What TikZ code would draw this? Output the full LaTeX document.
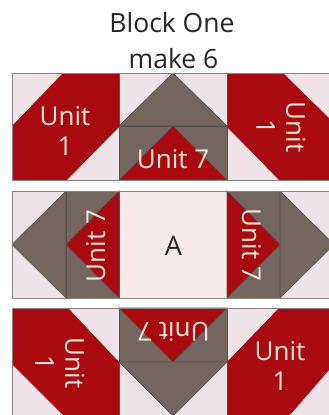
\documentclass[tikz,border=0pt]{standalone}
\usepackage{fontspec}
\setmainfont{Open Sans}
\definecolor{qred}{HTML}{A90A0F}
\definecolor{qgray}{HTML}{74655F}
\definecolor{qlight}{HTML}{EEE4E8}
\definecolor{qpink}{HTML}{F6E9EC}
\definecolor{qline}{HTML}{55504E}
\definecolor{qtxt}{HTML}{F7E6D6}
\tikzset{
  redp/.style={fill=qred},
  grayp/.style={fill=qgray,draw=qline,line width=.6pt,line join=round},
  lightp/.style={fill=qlight},
  seam/.style={draw=qline,line width=.7pt},
  lab/.style={text=qtxt,font=\fontsize{26}{30}\selectfont,inner sep=0pt,align=center},
  ttl/.style={text=black!85,font=\fontsize{26.5}{30}\selectfont,inner sep=0pt,anchor=base}
}
\begin{document}
\begin{tikzpicture}[x=1pt,y=-1pt]
\useasboundingbox (0,0) rectangle (329,415);
\clip (0,0) rectangle (329,415);
\fill[white] (0,0) rectangle (329,415);
\node[ttl] (t1) at (172,32) {Block One};
\node[ttl] (t2) at (173.5,68) {make 6};
% row 1
\fill[lightp] (12,73) rectangle (329,180);
\fill[redp] (63,73) -- (119,73) -- (119,127) -- (67,180) -- (12,180) -- (12,126) -- cycle;
\path[grayp] (119,126) -- (173,73) -- (227,126) -- cycle;
\path[grayp] (119,126) rectangle (227,180);
\path[fill=qred,seam] (119,180) -- (173,126) -- (227,180) -- cycle;
\fill[redp] (227,73) -- (283,73) -- (329,118) -- (329,180) -- (279,180) -- (227,127) -- cycle;
\draw[seam] (119,73) -- (119,180) (227,73) -- (227,180);
\draw[qline!70,line width=.9pt] (12,73) -- (329,73) (12,73) -- (12,180) -- (329,180);
\node[lab] (u1) at (65,131) {Unit\\1};
\node[lab,anchor=base] (u2) at (173,168) {Unit 7};
\node[lab,rotate=-90] (u3) at (281,127) {Unit\\1};
% row 2
\fill[lightp] (12,191) rectangle (66,298);
\fill[qpink] (119,191) rectangle (227,298);
\fill[lightp] (280,191) rectangle (329,298);
\path[grayp] (12,244.5) -- (66,191) -- (66,298) -- cycle;
\path[grayp] (66,191) rectangle (119,298);
\path[fill=qred,seam] (66,244.5) -- (119,191) -- (119,298) -- cycle;
\path[grayp] (227,191) rectangle (280,298);
\path[fill=qred,seam] (280,244.5) -- (227,191) -- (227,298) -- cycle;
\path[grayp] (280,191) -- (334,244.5) -- (280,298) -- cycle;
\draw[qline!70,line width=.9pt] (329,191) -- (12,191) -- (12,298) -- (329,298);
\node[lab,rotate=90,anchor=base] (u4) at (105,246) {Unit 7};
\node[lab,rotate=-90,anchor=base] (u5) at (242,245) {Unit 7};
\node[text=black!85,inner sep=0pt,anchor=base,font=\fontsize{27}{30}\selectfont] (a) at (173.5,255) {A};
% row 3
\fill[lightp] (12,308) rectangle (329,415);
\fill[redp] (12,308) -- (68,308) -- (119,362) -- (119,415) -- (63,415) -- (12,364) -- cycle;
\path[grayp] (119,308) rectangle (227,362);
\path[fill=qred,seam] (119,308) -- (227,308) -- (173,362) -- cycle;
\path[grayp] (119,362) -- (227,362) -- (173,416) -- cycle;
\fill[redp] (227,362) -- (279,308) -- (329,308) -- (329,370) -- (290,415) -- (227,415) -- cycle;
\draw[seam] (119,308) -- (119,415) (227,308) -- (227,415);
\draw[qline!70,line width=.9pt] (329,308) -- (12,308) -- (12,415);
\node[lab,rotate=-90] (u6) at (60,363) {Unit\\1};
\node[lab,rotate=180,anchor=base] (u7) at (173.5,322) {Unit 7};
\node[lab] (u8) at (280,366) {Unit\\1};
\end{tikzpicture}
\end{document}
